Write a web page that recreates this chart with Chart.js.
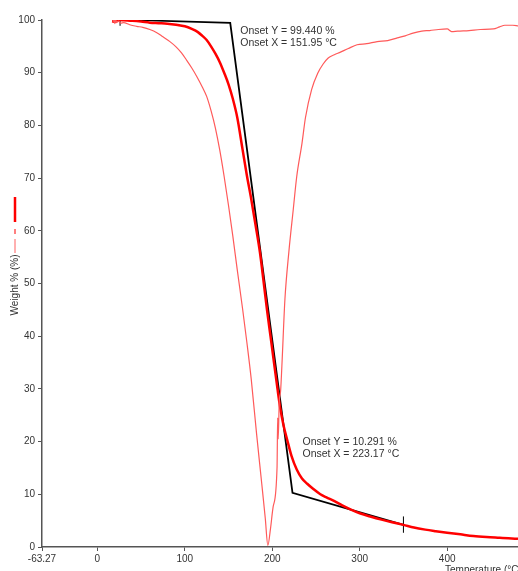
<!DOCTYPE html>
<html>
<head>
<meta charset="utf-8">
<script src="https://cdn.jsdelivr.net/npm/chart.js@4"></script>
<style>
  body { margin: 0; background: #fff; }
  #wrap { width: 518px; height: 571px; }
</style>
</head>
<body>
<div id="wrap"><canvas id="tga" width="518" height="571"></canvas></div>
<script>
// Axis ticks
const xTickValues = [-63.27, 0, 100, 200, 300, 400];
const xMin = -63.27;
const xMax = 481;

// Weight % (TG) - thick red
const tgTemp = [18, 19, 20, 21, 23, 26, 30, 40, 50, 60, 70, 80, 90, 100, 108, 115, 120, 125, 130, 135, 140, 145, 150, 155, 160, 166, 171, 176, 181, 186, 190, 194, 198, 202, 206, 209, 213, 217, 222, 228, 234, 240, 247, 255, 262, 270, 280, 290, 300, 312, 325, 337, 350, 362, 375, 387, 400, 415, 430, 445, 460, 470, 481];
const tgWeight = [99.5, 100.3, 99.6, 100.2, 99.9, 100.0, 99.95, 99.85, 99.7, 99.5, 99.4, 99.3, 99.1, 98.8, 98.3, 97.7, 97.0, 96.2, 95.0, 93.6, 92.0, 90.0, 87.8, 85.0, 81.5, 75.5, 70.5, 66.0, 61.0, 55.8, 50.5, 45.0, 40.0, 35.0, 30.0, 26.5, 23.0, 20.4, 17.3, 14.7, 13.0, 12.0, 11.0, 10.0, 9.4, 8.8, 7.9, 7.1, 6.4, 5.8, 5.2, 4.7, 4.2, 3.7, 3.3, 3.0, 2.7, 2.4, 2.1, 1.9, 1.75, 1.65, 1.55];

// Derivative curve (scaled) - thin light red
const dtgTemp = [18, 19, 20, 21, 22, 24, 27, 30, 37, 45, 52, 60, 68, 75, 83, 90, 96, 102, 108, 114, 120, 125, 130, 135, 140, 145, 150, 155, 160, 166, 171, 176, 182, 188, 192, 195, 198, 201, 205.5, 206.2, 206.8, 208, 209.5, 211, 214.5, 219, 224, 228, 234, 238, 245, 252, 258, 264, 271, 278, 287, 297, 308, 320, 332, 343, 352, 361, 371, 380, 390, 400, 405, 412, 425, 438, 453, 460, 466, 475, 481];
const dtgValue = [99.6, 100.4, 99.3, 100.1, 99.5, 99.8, 99.4, 99.5, 99.1, 98.8, 98.6, 98.2, 97.6, 96.8, 95.9, 94.9, 93.8, 92.4, 90.9, 89.2, 87.3, 85.5, 82.8, 79.5, 75.3, 70.3, 64.8, 58.9, 52.6, 45.3, 38.8, 31.8, 21.6, 12.0, 5.5, 0.3, 3.5, 7.6, 15.2, 24.5, 20.5, 27.5, 29.5, 34.3, 47.0, 56.0, 64.0, 70.3, 76.6, 81.5, 86.8, 89.9, 91.6, 92.8, 93.4, 93.9, 94.6, 95.3, 95.5, 95.9, 96.1, 96.6, 97.0, 97.5, 97.9, 98.0, 98.2, 98.3, 97.8, 97.9, 98.0, 98.2, 98.3, 98.7, 99.0, 99.0, 98.9];

// Onset construction lines - black
const onsetTemp = [20, 151.95, 223.17, 350];
const onsetWeight = [100.1, 99.44, 10.291, 4.2];
const markTempA = [26, 26];
const markWeightA = [98.9, 100.6];
const markTempB = [350, 350];
const markWeightB = [2.7, 5.8];

const onsetNotes = [
    ['Onset Y = 99.440 %', 'Onset X = 151.95 °C'],
    ['Onset Y = 10.291 %', 'Onset X = 223.17 °C']
];

const toPoints = (xs, ys) => xs.map((v, i) => ({ x: v, y: ys[i] }));
const FONT = 'Arial, "Liberation Sans", sans-serif';

const extras = {
    id: 'extras',
    afterDraw(chart) {
        const { ctx, scales: { x, y } } = chart;
        ctx.save();
        ctx.fillStyle = '#333';
        ctx.font = '10.5px ' + FONT;
        ctx.textBaseline = 'middle';
        ctx.textAlign = 'left';

        // onset notes next to their points
        const ax = x.getPixelForValue(onsetTemp[1]) + 10;
        const ay = y.getPixelForValue(onsetWeight[1]) + 8;
        ctx.fillText(onsetNotes[0][0], ax, ay);
        ctx.fillText(onsetNotes[0][1], ax, ay + 12.5);
        const bx = x.getPixelForValue(onsetTemp[2]) + 10;
        const by = y.getPixelForValue(onsetWeight[2]) - 51;
        ctx.fillText(onsetNotes[1][0], bx, by);
        ctx.fillText(onsetNotes[1][1], bx, by + 12.5);

        // x axis title (cut off at the bottom)
        ctx.font = '10px ' + FONT;
        ctx.textBaseline = 'top';
        ctx.fillText('Temperature (°C)', 445, 565);

        // y axis title, rotated
        ctx.save();
        ctx.translate(15, 285);
        ctx.rotate(-Math.PI / 2);
        ctx.textAlign = 'center';
        ctx.textBaseline = 'middle';
        ctx.fillText('Weight % (%)', 0, 0);
        ctx.restore();

        // legend swatches (vertical)
        ctx.strokeStyle = '#ff0000';
        ctx.lineWidth = 2.5;
        ctx.beginPath(); ctx.moveTo(15, 197); ctx.lineTo(15, 222); ctx.stroke();
        ctx.lineWidth = 1;
        ctx.beginPath(); ctx.moveTo(15, 229); ctx.lineTo(15, 234); ctx.stroke();
        ctx.strokeStyle = '#ff6060';
        ctx.beginPath(); ctx.moveTo(15, 239); ctx.lineTo(15, 253); ctx.stroke();
        ctx.restore();
    }
};

new Chart(document.getElementById('tga'), {
    type: 'line',
    data: {
        datasets: [
            {
                label: 'Derivative',
                data: toPoints(dtgTemp, dtgValue),
                borderColor: '#ff5a5a',
                borderWidth: 1.2,
                pointRadius: 0,
                cubicInterpolationMode: 'monotone'
            },
            {
                label: 'Weight %',
                data: toPoints(tgTemp, tgWeight),
                borderColor: '#ff0000',
                borderWidth: 2.5,
                pointRadius: 0,
                cubicInterpolationMode: 'monotone'
            },
            {
                label: 'Onset',
                data: toPoints(onsetTemp, onsetWeight),
                borderColor: '#000',
                borderWidth: 1.8,
                pointRadius: 0,
                tension: 0
            },
            {
                label: 'markA',
                data: toPoints(markTempA, markWeightA),
                borderColor: '#000',
                borderWidth: 1,
                pointRadius: 0
            },
            {
                label: 'markB',
                data: toPoints(markTempB, markWeightB),
                borderColor: '#000',
                borderWidth: 1,
                pointRadius: 0
            }
        ]
    },
    options: {
        responsive: false,
        devicePixelRatio: 1,
        animation: false,
        layout: { padding: { top: 20, right: 0, left: 0, bottom: 0 } },
        plugins: { legend: { display: false }, tooltip: { enabled: false } },
        scales: {
            x: {
                type: 'linear',
                min: xMin,
                max: xMax,
                afterBuildTicks: (scale) => { scale.ticks = xTickValues.map(v => ({ value: v })); },
                afterFit: (scale) => { scale.height = 24; },
                border: { display: true, color: '#555', width: 1.5 },
                grid: { drawOnChartArea: false, color: '#555', tickLength: 4 },
                ticks: {
                    color: '#333',
                    font: { size: 10, family: FONT },
                    padding: 2,
                    maxRotation: 0,
                    autoSkip: false,
                    callback: (v) => String(v)
                }
            },
            y: {
                min: 0,
                max: 100,
                afterFit: (scale) => { scale.width = 42; },
                border: { display: true, color: '#555', width: 1.5 },
                grid: { drawOnChartArea: false, color: '#555', tickLength: 4 },
                ticks: {
                    stepSize: 10,
                    color: '#333',
                    font: { size: 10, family: FONT },
                    padding: 3
                }
            }
        }
    },
    plugins: [extras]
});
</script>
</body>
</html>
